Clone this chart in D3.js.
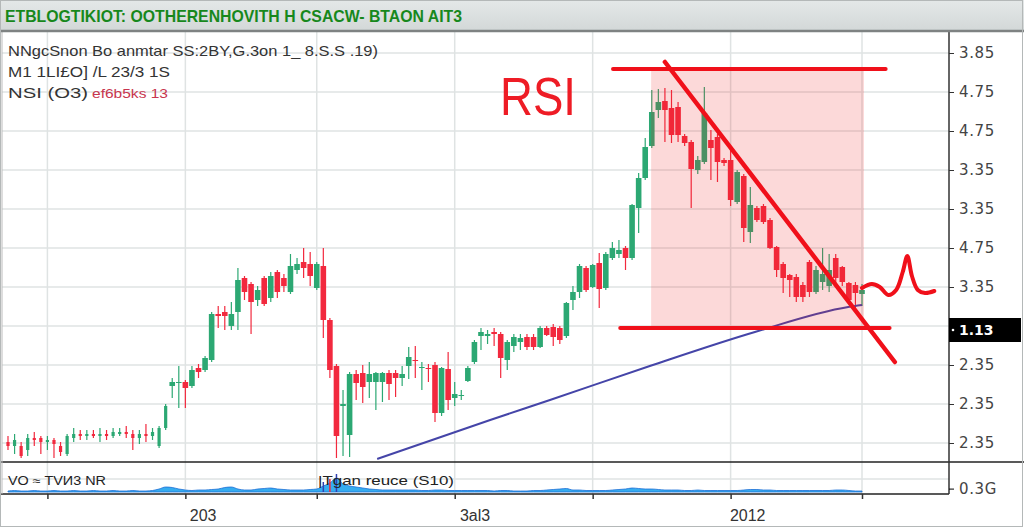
<!DOCTYPE html>
<html>
<head>
<meta charset="utf-8">
<script src="https://cdn.jsdelivr.net/npm/d3@7"></script>
<style>
body{margin:0;background:#fff;}
svg{display:block;font-family:"Liberation Sans",Arial,sans-serif;}
</style>
</head>
<body>
<div id="chart"></div>
<script>
//K线数据 (开,收,高,低)
var opens=[5,4,4,3,6,6,5,5.5,4,2,6,7,6.5,7,6.5,7,6.5,7,7.5,7,6,7,6.5,4,8.5,
19,20,20,19,23.5,23,25.5,37,37.5,34,37.5,46,44.5,40.5,46,41,47.5,46,42.5,48,50,49.5,43.5,49,35.5,24,14,6.75,22,22.25,20,20,20,22.25,22.25,21,24,25.5,23.5,23.5,24.25,12.25,23.25,16,16.5,20.25,25,31.5,31.5,32.5,32,25.5,29,30,31.25,31.25,28.75,33.5,33.75,33.5,31.5,40.5,42.5,48.5,43.75,49.75,43.5,51,52,53.5,51,63.5,71,79,88,90.25,88.5,88.75,81.5,80,73,75,80.5,81.25,75.5,75.5,65,71.5,57.5,63.5,64,60.5,53.75,49.5,46.75,46.25,44.25,50,42.5,45,44,51,48.75,44.75,44.25,42];
var closes=[4,5.5,1.5,6,5.5,5,5.5,4.5,2.5,6.5,7,6.5,7,6.5,7,6.5,7.5,7.5,7,6,7,6.5,7.5,8.5,14,
20,20,18.5,23,22.5,26,37,36.5,36.5,37,45.5,42.5,40,43,39.5,46.5,42.5,44,49,49.5,48.5,46.5,49.5,35.5,23,6.5,14.5,22,19.75,18.75,22,22.25,22.25,19.5,21,22,26.25,25.25,23.75,23.25,12.25,23.5,15.5,17,16.75,23.5,30,32.5,32,32,26,30,31.25,31,28.75,28.75,33.5,31.75,31.25,30.5,39.75,42.5,49,43,49.25,43.25,52,53.5,53,51,64.25,71,78.75,87.5,90,88,81.75,81.75,79.75,73.25,75.5,87.25,78.5,75,74.75,65.5,72.5,58.5,64.25,60.5,60,53.5,48,46,45.5,41.25,41.25,42.5,48,47,48,46,45,40.5,42.25,43];
var highs=[6.5,7,5,7,7.5,6.5,6.5,6,5,7,8.5,8,8,8,8.5,8,8.5,8.5,9,8,8,9.5,8.5,9,14.5,
21,24,20.5,24,24.5,26.5,37.5,39,39,40,48.5,46.5,45,44,46.5,47.5,48,47,52,51,53.5,52.5,50,53.5,36,24.5,18,22.5,23,24.25,25,22.5,22.5,23,23,24,28.75,29,25,24.5,25,23.75,27.5,20,18,24,30.5,33.5,33,33.5,32.5,30.5,32,32,32,32,34,34,34.5,34,40,44,49.5,49,49.5,52.25,52.5,55,55.5,54,64.5,72.25,81,93,93.25,93.5,93,90,82,80.5,76.5,93.75,83,82,76,78,73,72,68.75,64,64.5,61,54,50,47,47,45,50.5,49,53.5,52,52,49,45,45,44.5];
var lows=[3,2,1,1.5,4,2,3,1,1.5,1.5,5,5.5,5.5,6,5,5.5,6,6.5,6,3,4.5,5,5.5,3.5,8,
16,13.5,13.5,18.5,21,22.5,25,33.5,33,33,33,40.5,32,39,39,40,41,42.5,42,47,46,44,43,31,21,1,1.5,1.25,15.5,14.75,16,13,15,15.5,16.25,19,20.75,21,18,20,10,11.5,13,14,15.5,20,24.5,28,29.5,29,21,23,27.5,28,28,28,28.5,31.5,29,29.5,31,38,41,42.5,43.5,38.5,43,50.5,51,48,50.5,57.25,70.5,78.5,86,80,79.75,80,79,63.5,72,74.5,70.5,70,74,64,64.5,55,54.75,60,59.5,53.25,46.25,42.25,41.25,40,40,41.25,42,43,42.5,44,44,39.5,38,39];
//成交量
var volumes=[1,1.5,1,1,1.5,1,1,1.5,1,1,1.5,1,1,1.5,1,1,1.5,1,1,1.5,1,1,1.5,
3,5,4.5,3,2,1.5,2,2,2.5,3,4.5,5,3,2,2,3,3.5,4,3,2.5,2,2,2,2.5,3,
6,9,14,8,6,5,4,3,2.5,2,2,2,2,
2,2,1.5,1.5,2,2,1.5,1.5,1.5,1.5,1.5,1.5,1.5,1,1.5,1.5,1,1,1,1.5,
1.5,2,2.5,3,3.5,2,2,1.5,1.5,1.5,1.5,2,2.5,3,4,3.5,3,3,2.5,2,
2,2,1.5,1.5,2,1.5,1.5,1.5,1.5,1.5,1.5,2,2.5,2.5,2,2,1.5,1.5,1.5,1.5,
1.5,1.5,1.5,1.5,1.5,2,2,1.5,1,1];
//均线
var maIdx=[56.2,73.4,82.5,97.7,113.7,127.9,130];
var maVal=[0.75,10.5,15.5,24,32.5,38.75,39.25];
//右侧刻度
var tickVals=[102.25,92.5,82.75,73,63.25,53.5,43.75,34,24.25,14.5,4.75];
var tickLabels=["3.85","4.75","4.75","3.35","3.35","4.75","3.35","","2.35","2.35","2.35"];
var lastPrice=33, lastLabel="1.13";
//时间轴
var gridIdx=[6,27,47,68,89,110,130];
var yearIdx=[29.7,71.1,112.6];
var yearLabels=["203","3al3","2012"];
//手绘标注
var boxIdx=[97.9,130.3], boxVal=[33.5,98.5];
var topLineIdx=[92.1,133.6], topLineVal=98.25;
var botLineIdx=[93.2,134.2], botLineVal=33.5;
var diagIdx=[100,135], diagVal=[100,25];
var squigIdx=[130,131.5,132.7,134,135.2,136.2,136.9,137.6,138.5,139.6,141];
var squigVal=[43.5,44.5,43.75,41.75,43,47.5,51.5,46.5,43,42.25,42.75];
//文字
var titleText="ETBLOGTIKIOT: OOTHERENHOVIТH H CSACW- BTAON AIT3";
var legendLines=["NNgcSnon Bo anmtar SS:2BY,G.3on 1_ 8.S.S .19)","M1 1LI£O] /L 23/3 1S","NSI (O3)"];
var legendRed="ef6b5ks 13";

var W=1024,H=528;
var plotL=2,plotR=949,plotT=32,plotB=462,volB=494;
var green="#2ca873",red="#f2293e";

var svg=d3.select("#chart").append("svg").attr("width",W).attr("height",H);
svg.append("rect").attr("width",W).attr("height",H).attr("fill","#fff");

var x=d3.scaleLinear().domain([0,130]).range([8,862]);
var y=d3.scaleLinear().domain([0,107.5]).range([plotB,plotT]);
var yv=d3.scaleLinear().domain([0,30]).range([492,plotB]);

//网格
var grid=svg.append("g").attr("stroke","#dfe3e3").attr("stroke-width",1.5);
grid.selectAll(".hg").data(tickVals).enter().append("line")
    .attr("x1",plotL).attr("x2",plotR)
    .attr("y1",function(d){return y(d);}).attr("y2",function(d){return y(d);});
grid.selectAll(".vg").data(gridIdx).enter().append("line")
    .attr("y1",plotT).attr("y2",volB)
    .attr("x1",function(d){return x(d);}).attr("x2",function(d){return x(d);});
grid.append("line").attr("x1",plotL).attr("x2",plotR).attr("y1",479).attr("y2",479);

//K线
var idx=d3.range(opens.length);
function cw(i){return i<25?3.2:5.6;}
var candle=svg.append("g").selectAll("g").data(idx).enter().append("g");
candle.append("line")
    .attr("x1",function(i){return x(i);}).attr("x2",function(i){return x(i);})
    .attr("y1",function(i){return y(highs[i]);}).attr("y2",function(i){return y(lows[i]);})
    .attr("stroke",function(i){return closes[i]>=opens[i]?green:red;})
    .attr("stroke-width",1.2);
candle.append("rect")
    .attr("x",function(i){return x(i)-cw(i)/2;})
    .attr("width",function(i){return cw(i);})
    .attr("y",function(i){return y(Math.max(opens[i],closes[i]));})
    .attr("height",function(i){return Math.max(1,Math.abs(y(opens[i])-y(closes[i])));})
    .attr("fill",function(i){return closes[i]>=opens[i]?green:red;});

//均线
svg.append("path")
    .datum(d3.range(maIdx.length))
    .attr("fill","none").attr("stroke","#4545a8").attr("stroke-width",2)
    .attr("d",d3.line().curve(d3.curveMonotoneX)
        .x(function(i){return x(maIdx[i]);})
        .y(function(i){return y(maVal[i]);}));

//成交量
svg.append("path")
    .datum(idx)
    .attr("fill","#36acef").attr("stroke","#1d6fd6").attr("stroke-width",0.8)
    .attr("d",d3.area().curve(d3.curveMonotoneX)
        .x(function(i){return x(i);})
        .y0(yv(0))
        .y1(function(i){return yv(volumes[i]);}));
svg.selectAll(".vspike").data([48,49,50]).enter().append("line")
    .attr("x1",function(i){return x(i);}).attr("x2",function(i){return x(i);})
    .attr("y1",function(i){return yv(volumes[i]+4);}).attr("y2",yv(0))
    .attr("stroke",function(i){return i==49?red:"#3040b0";}).attr("stroke-width",1.5);

//RSI 区域
svg.append("rect")
    .attr("x",x(boxIdx[0])).attr("width",x(boxIdx[1])-x(boxIdx[0]))
    .attr("y",y(boxVal[1])).attr("height",y(boxVal[0])-y(boxVal[1]))
    .attr("fill","#f01e1e").attr("fill-opacity",0.17);

var ann=svg.append("g").attr("stroke","#f0101a").attr("fill","none")
    .attr("stroke-linecap","round").attr("stroke-linejoin","round");
ann.append("line").attr("x1",x(topLineIdx[0])).attr("x2",x(topLineIdx[1]))
    .attr("y1",y(topLineVal)).attr("y2",y(topLineVal)).attr("stroke-width",4);
ann.append("line").attr("x1",x(botLineIdx[0])).attr("x2",x(botLineIdx[1]))
    .attr("y1",y(botLineVal)).attr("y2",y(botLineVal)).attr("stroke-width",4);
ann.append("line").attr("x1",x(diagIdx[0])).attr("x2",x(diagIdx[1]))
    .attr("y1",y(diagVal[0])).attr("y2",y(diagVal[1])).attr("stroke-width",4.5);
ann.append("path")
    .datum(d3.range(squigIdx.length))
    .attr("stroke-width",4)
    .attr("d",d3.line().curve(d3.curveCatmullRom)
        .x(function(i){return x(squigIdx[i]);})
        .y(function(i){return y(squigVal[i]);}));

svg.append("text").attr("x",500).attr("y",115)
    .attr("font-size",54).attr("fill","#ee1c25")
    .attr("textLength",76).attr("lengthAdjust","spacingAndGlyphs")
    .text("RSI");

//图例
svg.selectAll(".leg").data(legendLines).enter().append("text")
    .attr("x",8).attr("y",function(d,i){return 56+i*21;})
    .attr("font-size",15).attr("fill","#333")
    .attr("textLength",function(d,i){return [370,162,80][i];})
    .attr("lengthAdjust","spacingAndGlyphs")
    .text(function(d){return d;});
svg.append("text").attr("x",92).attr("y",98).attr("font-size",13).attr("fill","#c8354e")
    .attr("textLength",76).attr("lengthAdjust","spacingAndGlyphs").text(legendRed);

//成交量标签
svg.append("text").attr("x",8).attr("y",485).attr("font-size",12).attr("fill","#222")
    .attr("textLength",98).attr("lengthAdjust","spacingAndGlyphs").text("VO ≈ TVИ3 NR");
svg.append("text").attr("x",318).attr("y",485).attr("font-size",13).attr("fill","#222")
    .attr("textLength",136).attr("lengthAdjust","spacingAndGlyphs").text("|Tgan reuce (S10)");

//边框
svg.append("line").attr("x1",0).attr("x2",W).attr("y1",plotB).attr("y2",plotB)
    .attr("stroke","#222").attr("stroke-width",1.5);
svg.append("line").attr("x1",0).attr("x2",plotR).attr("y1",volB).attr("y2",volB)
    .attr("stroke","#222").attr("stroke-width",1.5);
svg.append("line").attr("x1",plotR).attr("x2",plotR).attr("y1",plotT).attr("y2",volB)
    .attr("stroke","#333").attr("stroke-width",1.5);
svg.append("line").attr("x1",plotL).attr("x2",plotL).attr("y1",plotT).attr("y2",volB)
    .attr("stroke","#bbb").attr("stroke-width",1);

//右侧坐标轴
var yAxis=svg.append("g").attr("transform","translate("+plotR+",0)")
    .call(d3.axisRight(y).tickValues(tickVals).tickSize(5).tickPadding(5)
        .tickFormat(function(d,i){return tickLabels[i];}));
yAxis.select(".domain").remove();
yAxis.selectAll("text").attr("font-size",15).attr("fill","#444")
    .attr("font-family","DejaVu Sans").attr("letter-spacing",0.6);
yAxis.selectAll("line").attr("stroke","#333");

var vAxis=svg.append("g").attr("transform","translate("+plotR+",0)")
    .call(d3.axisRight(yv).tickValues([3.4]).tickSize(5).tickPadding(5)
        .tickFormat(function(){return "0.3G";}));
vAxis.select(".domain").remove();
vAxis.selectAll("text").attr("font-size",15).attr("fill","#444")
    .attr("font-family","DejaVu Sans").attr("letter-spacing",0.6);

//当前价标签
svg.append("rect").attr("x",plotR).attr("y",y(lastPrice)-12).attr("width",72).attr("height",24)
    .attr("fill","#000");
svg.append("circle").attr("cx",plotR+4).attr("cy",y(lastPrice)).attr("r",1.3).attr("fill","#fff");
svg.append("text").attr("x",plotR+10).attr("y",y(lastPrice)+5).attr("font-size",14)
    .attr("font-weight","bold").attr("fill","#fff").attr("font-family","DejaVu Sans")
    .text(lastLabel);

//时间轴
var xAxis=svg.append("g").attr("transform","translate(0,"+volB+")")
    .call(d3.axisBottom(x).tickValues(gridIdx).tickSize(5).tickFormat(""));
xAxis.select(".domain").remove();
xAxis.selectAll("line").attr("stroke","#333").attr("stroke-width",1.5);
svg.selectAll(".yr").data(yearIdx).enter().append("text")
    .attr("x",function(d){return x(d);}).attr("y",521)
    .attr("text-anchor","middle").attr("font-size",16).attr("fill","#333")
    .text(function(d,i){return yearLabels[i];});

//标题栏
var grad=svg.append("defs").append("linearGradient").attr("id","tb")
    .attr("x1",0).attr("x2",0).attr("y1",0).attr("y2",1);
grad.append("stop").attr("offset","0%").attr("stop-color","#e4e8e8");
grad.append("stop").attr("offset","100%").attr("stop-color","#d2d7d7");
svg.append("rect").attr("width",W).attr("height",plotT).attr("fill","url(#tb)");
svg.append("line").attr("x1",0).attr("x2",W).attr("y1",plotT-1).attr("y2",plotT-1)
    .attr("stroke","#7e8282").attr("stroke-width",2.5);
svg.append("text").attr("x",5).attr("y",22).attr("font-size",17).attr("font-weight","bold")
    .attr("fill","#17881c").attr("textLength",457).attr("lengthAdjust","spacingAndGlyphs")
    .text(titleText);

svg.append("rect").attr("x",0.5).attr("y",0.5).attr("width",W-2).attr("height",H-2)
    .attr("fill","none").attr("stroke","#b4b8b8");
</script>
</body>
</html>
